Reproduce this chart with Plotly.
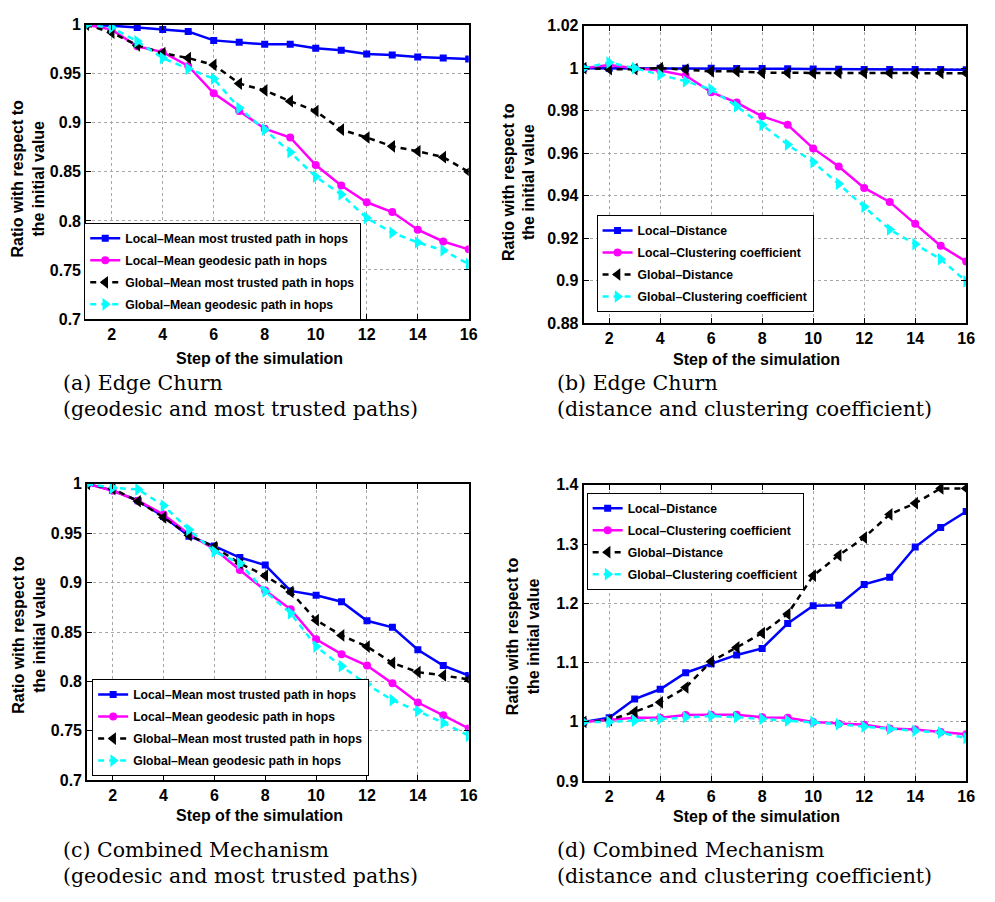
import plotly.graph_objects as go

# ---------------- data ----------------
steps = list(range(1, 17))

# (a) Edge Churn - geodesic and most trusted paths
a_local_trusted = [1.0, 0.999, 0.997, 0.995, 0.993, 0.984, 0.982, 0.980, 0.980, 0.976, 0.974, 0.970, 0.969, 0.967, 0.966, 0.965]
a_local_geodesic = [1.0, 0.995, 0.978, 0.972, 0.958, 0.930, 0.912, 0.894, 0.885, 0.857, 0.836, 0.819, 0.809, 0.791, 0.779, 0.771]
a_global_trusted = [1.0, 0.992, 0.979, 0.971, 0.966, 0.959, 0.940, 0.933, 0.922, 0.912, 0.893, 0.885, 0.876, 0.871, 0.865, 0.850]
a_global_geodesic = [1.0, 0.997, 0.983, 0.966, 0.955, 0.945, 0.915, 0.893, 0.870, 0.845, 0.827, 0.803, 0.788, 0.778, 0.770, 0.756]

# (b) Edge Churn - distance and clustering coefficient
b_local_distance = [1.0, 1.0, 1.0, 1.0, 0.9999, 0.9999, 0.9998, 0.9998, 0.9997, 0.9996, 0.9995, 0.9994, 0.9994, 0.9993, 0.9993, 0.9992]
b_local_clustering = [1.0, 1.0015, 1.0, 0.9989, 0.9965, 0.9887, 0.9838, 0.9773, 0.9733, 0.9622, 0.9537, 0.9436, 0.9370, 0.9267, 0.9163, 0.9089]
b_global_distance = [1.0, 0.9995, 0.9995, 1.0, 0.9993, 0.9985, 0.9985, 0.9978, 0.9978, 0.9976, 0.9977, 0.9977, 0.9977, 0.9977, 0.9977, 0.9976]
b_global_clustering = [1.0, 1.0026, 1.0, 0.9969, 0.9938, 0.990, 0.982, 0.9733, 0.964, 0.9557, 0.9455, 0.9347, 0.924, 0.9171, 0.910, 0.8996]

# (c) Combined Mechanism - geodesic and most trusted paths
c_local_trusted = [1.0, 0.9934, 0.9828, 0.9669, 0.947, 0.937, 0.9254, 0.9178, 0.8916, 0.8873, 0.8807, 0.8614, 0.8548, 0.832, 0.816, 0.806]
c_local_geodesic = [1.0, 0.993, 0.983, 0.969, 0.949, 0.934, 0.9128, 0.892, 0.873, 0.8426, 0.8276, 0.816, 0.798, 0.7786, 0.7657, 0.7524]
c_global_trusted = [1.0, 0.995, 0.9824, 0.966, 0.948, 0.936, 0.9195, 0.907, 0.8906, 0.862, 0.8465, 0.8353, 0.8187, 0.8094, 0.806, 0.802]
c_global_geodesic = [1.0, 0.996, 0.9944, 0.978, 0.9536, 0.9314, 0.9195, 0.891, 0.869, 0.8353, 0.8154, 0.797, 0.781, 0.770, 0.758, 0.745]

# (d) Combined Mechanism - distance and clustering coefficient
d_local_distance = [1.0, 1.007, 1.0386, 1.055, 1.083, 1.098, 1.113, 1.124, 1.166, 1.196, 1.197, 1.232, 1.244, 1.295, 1.328, 1.355]
d_local_clustering = [1.0, 1.003, 1.007, 1.007, 1.0116, 1.012, 1.012, 1.008, 1.007, 1.0, 0.997, 0.995, 0.989, 0.987, 0.983, 0.979]
d_global_distance = [1.0, 1.003, 1.017, 1.033, 1.058, 1.102, 1.1256, 1.150, 1.182, 1.2467, 1.281, 1.311, 1.350, 1.369, 1.394, 1.394]
d_global_clustering = [1.0, 1.0, 1.002, 1.005, 1.008, 1.010, 1.008, 1.005, 1.002, 1.0, 0.996, 0.992, 0.988, 0.985, 0.982, 0.9725]

names_paths = ["Local\u2013Mean most trusted path in hops",
               "Local\u2013Mean geodesic path in hops",
               "Global\u2013Mean most trusted path in hops",
               "Global\u2013Mean geodesic path in hops"]
names_dist = ["Local\u2013Distance",
              "Local\u2013Clustering coefficient",
              "Global\u2013Distance",
              "Global\u2013Clustering coefficient"]

x_tickvals = [2, 4, 6, 8, 10, 12, 14, 16]
x_ticktext = ["2", "4", "6", "8", "10", "12", "14", "16"]
ya_tickvals = [0.7, 0.75, 0.8, 0.85, 0.9, 0.95, 1.0]
ya_ticktext = ["0.7", "0.75", "0.8", "0.85", "0.9", "0.95", "1"]
yb_tickvals = [0.88, 0.9, 0.92, 0.94, 0.96, 0.98, 1.0, 1.02]
yb_ticktext = ["0.88", "0.9", "0.92", "0.94", "0.96", "0.98", "1", "1.02"]
yd_tickvals = [0.9, 1.0, 1.1, 1.2, 1.3, 1.4]
yd_ticktext = ["0.9", "1", "1.1", "1.2", "1.3", "1.4"]

captions = [("(a) Edge Churn", "(geodesic and most trusted paths)"),
            ("(b) Edge Churn", "(distance and clustering coefficient)"),
            ("(c) Combined Mechanism", "(geodesic and most trusted paths)"),
            ("(d) Combined Mechanism", "(distance and clustering coefficient)")]

# ---------------- layout helpers ----------------
W, H = 995, 902
def fx(p):
    return p / W
def fy(p):
    return 1 - p / H

# pixel boxes: (left, right, top, bottom)
boxes = [(87, 473, 17, 317), (589, 975, 18, 321), (88, 473, 485, 787), (589, 975, 486, 788)]
yranges = [(0.7, 1.0), (0.88, 1.02), (0.7, 1.0), (0.9, 1.4)]
yticks = [(ya_tickvals, ya_ticktext), (yb_tickvals, yb_ticktext), (ya_tickvals, ya_ticktext), (yd_tickvals, yd_ticktext)]
legend_pos = [(85, 219), (602, 211), (93, 684), (592, 494)]
ytitle_pos = [(28, 174), (523, 177), (29, 639), (528, 640)]
xtitle_pos = [(262, 357), (763, 358), (262, 823), (763, 824)]
caption_pos = [(62, 382), (560, 382), (62, 858), (560, 858)]

series = [
    (a_local_trusted, a_local_geodesic, a_global_trusted, a_global_geodesic, names_paths),
    (b_local_distance, b_local_clustering, b_global_distance, b_global_clustering, names_dist),
    (c_local_trusted, c_local_geodesic, c_global_trusted, c_global_geodesic, names_paths),
    (d_local_distance, d_local_clustering, d_global_distance, d_global_clustering, names_dist),
]

styles = [
    dict(color="#0000FF", dash="solid", symbol="square", size=7),
    dict(color="#FF00FF", dash="solid", symbol="circle", size=8),
    dict(color="#000000", dash="6px,5px", symbol="triangle-left", size=11),
    dict(color="#00FFFF", dash="6px,5px", symbol="triangle-right", size=11),
]

fig = go.Figure()
layout = dict(
    width=W, height=H,
    margin=dict(l=0, r=0, t=0, b=0),
    paper_bgcolor="white", plot_bgcolor="white",
    showlegend=True,
    annotations=[],
)

tickfont = dict(family="Liberation Sans, Arial", size=16, color="black", weight="bold")

for i in range(4):
    sfx = "" if i == 0 else str(i + 1)
    legname = "legend" if i == 0 else "legend" + str(i + 1)
    data = series[i]
    for k in range(4):
        st = styles[k]
        fig.add_trace(go.Scatter(
            x=steps, y=data[k], name=data[4][k], mode="lines+markers",
            xaxis="x" + sfx, yaxis="y" + sfx, legend=legname,
            legendgroup="p%d_%d" % (i, k),
            line=dict(color=st["color"], width=2.5, dash=st["dash"]),
            marker=dict(symbol=st["symbol"], size=st["size"], color=st["color"],
                        line=dict(width=0)),
        ))
    l, r, t, b = boxes[i]
    common = dict(showline=True, linecolor="black", linewidth=2, mirror="ticks",
                  ticks="inside", ticklen=5, tickwidth=1, tickcolor="black",
                  showgrid=True, gridcolor="#a8a8a8", griddash="dot", gridwidth=1,
                  zeroline=False, tickfont=tickfont)
    layout["xaxis" + sfx] = dict(domain=[fx(l), fx(r)], range=[1, 16], anchor="y" + sfx,
                                 tickmode="array", tickvals=x_tickvals, ticktext=x_ticktext,
                                 **common)
    yv, yt = yticks[i]
    layout["yaxis" + sfx] = dict(domain=[fy(b), fy(t)], range=list(yranges[i]), anchor="x" + sfx,
                                 tickmode="array", tickvals=yv, ticktext=yt, **common)
    lx, ly = legend_pos[i]
    layout[legname] = dict(x=fx(lx), y=fy(ly), xanchor="left", yanchor="top",
                           xref="paper", yref="paper",
                           bgcolor="white", bordercolor="black", borderwidth=1,
                           font=dict(family="Liberation Sans, Arial", size=12.2, color="black", weight="bold"),
                           traceorder="grouped", tracegroupgap=3)
    # axis titles
    tx, ty = ytitle_pos[i]
    layout["annotations"].append(dict(
        text="Ratio with respect to<br>the initial value", x=fx(tx), y=fy(ty),
        xref="paper", yref="paper", showarrow=False, textangle=-90,
        xanchor="center", yanchor="middle",
        font=dict(family="Liberation Sans, Arial", size=16, color="black", weight="bold")))
    tx, ty = xtitle_pos[i]
    layout["annotations"].append(dict(
        text="Step of the simulation", x=fx(tx), y=fy(ty),
        xref="paper", yref="paper", showarrow=False,
        xanchor="center", yanchor="middle",
        font=dict(family="Liberation Sans, Arial", size=16, color="black", weight="bold")))
    cx, cy = caption_pos[i]
    for j, line in enumerate(captions[i]):
        layout["annotations"].append(dict(
            text=line, x=fx(cx), y=fy(cy + 27 * j),
            xref="paper", yref="paper", showarrow=False,
            xanchor="left", yanchor="middle",
            font=dict(family="DejaVu Serif", size=20.5, color="black")))

fig.update_layout(**layout)
fig.write_html("out.html")
